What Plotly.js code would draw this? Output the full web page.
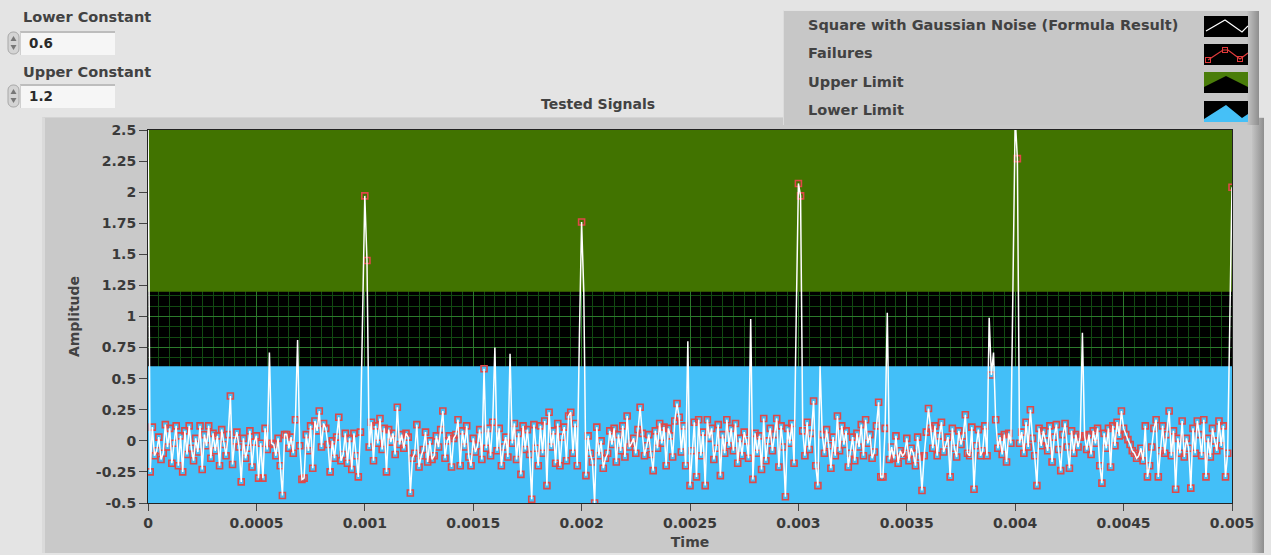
<!DOCTYPE html>
<html><head><meta charset="utf-8">
<script src="https://cdn.plot.ly/plotly-3.0.1.min.js"></script>
<style>
html,body{margin:0;padding:0;}
body{width:1271px;height:555px;overflow:hidden;background:#e4e4e4;position:relative;font-family:"DejaVu Sans",sans-serif;font-weight:bold;color:#424242;}
#frame{position:absolute;left:42px;top:117px;width:1222px;height:436px;background:#c9c9c9;border-left:3px solid #dadada;border-top:1px solid #d4d4d4;box-sizing:border-box;}
#frame .rs{position:absolute;right:0;top:0;width:12px;height:100%;background:linear-gradient(to right,#c4c4c4,#8e8e8e);}
#plot{position:absolute;left:0;top:0;width:1271px;height:555px;}
#legend{position:absolute;left:783px;top:10px;width:476px;height:115px;background:#c7c7c7;border-top:1px solid #e2e2e2;border-left:1px solid #dcdcdc;box-sizing:border-box;}
#legend .rs{position:absolute;right:0;top:0;width:12px;height:100%;background:linear-gradient(to right,#c4c4c4,#8e8e8e);}
.lrow{position:absolute;left:24px;font-size:14.5px;line-height:20px;}
.licon{position:absolute;left:420px;width:44px;height:21px;}
.clab{position:absolute;left:23px;font-size:14.5px;line-height:20px;}
.cbox{position:absolute;left:20px;width:95px;height:24px;background:#f6f6f6;border-top:2px solid #bdbdbd;border-left:1px solid #cfcfcf;box-sizing:border-box;font-size:13.5px;line-height:21px;padding-left:8px;color:#2a2a2a;}
.spin{position:absolute;left:7px;width:13px;height:24px;}
</style></head>
<body>
<div id="frame"><div class="rs"></div></div>
<div id="plot"></div>
<div class="clab" style="top:7px;">Lower Constant</div>
<svg class="spin" style="top:31px;" viewBox="0 0 13 24"><rect x="1" y="1" width="11" height="22" rx="5" fill="#d4d4d4" stroke="#a8a8a8"/><path d="M6.5 5 L9.5 10 L3.5 10 Z" fill="#777"/><path d="M6.5 19 L9.5 14 L3.5 14 Z" fill="#777"/></svg>
<div class="cbox" style="top:31px;">0.6</div>
<div class="clab" style="top:62px;">Upper Constant</div>
<svg class="spin" style="top:84px;" viewBox="0 0 13 24"><rect x="1" y="1" width="11" height="22" rx="5" fill="#d4d4d4" stroke="#a8a8a8"/><path d="M6.5 5 L9.5 10 L3.5 10 Z" fill="#777"/><path d="M6.5 19 L9.5 14 L3.5 14 Z" fill="#777"/></svg>
<div class="cbox" style="top:84px;">1.2</div>

<div id="legend">
  <div class="rs"></div>
  <div class="lrow" style="top:4px;">Square with Gaussian Noise (Formula Result)</div>
  <svg class="licon" style="top:5px;" viewBox="0 0 44 21"><rect width="44" height="21" fill="#000"/><polyline points="2,15 21,4 38,16 44,10" fill="none" stroke="#fff" stroke-width="1.2"/></svg>
  <div class="lrow" style="top:32px;">Failures</div>
  <svg class="licon" style="top:33px;" viewBox="0 0 44 21"><rect width="44" height="21" fill="#000"/><polyline points="4,16 19,6 24,6 36,15 44,9" fill="none" stroke="#e23b3b" stroke-width="1.2"/><rect x="1.5" y="13.5" width="5" height="5" fill="none" stroke="#e23b3b"/><rect x="18.5" y="3.5" width="5" height="5" fill="none" stroke="#e23b3b"/><rect x="33.5" y="12.5" width="5" height="5" fill="none" stroke="#e23b3b"/></svg>
  <div class="lrow" style="top:61px;">Upper Limit</div>
  <svg class="licon" style="top:61px;" viewBox="0 0 44 21"><rect width="44" height="21" fill="#000"/><polygon points="0,0 44,0 44,15 22,4 0,15" fill="#4a7d0a"/></svg>
  <div class="lrow" style="top:89px;">Lower Limit</div>
  <svg class="licon" style="top:90px;" viewBox="0 0 44 21"><rect width="44" height="21" fill="#000"/><polygon points="0,21 0,18 22,4 38,17 44,13 44,21" fill="#45c0f7"/></svg>
</div>

<script>
// ---- data ----
const t0 = 0;
const dt = 0.00001;
const lowerConstant = 0.6;
const upperConstant = 1.2;
const signal = [
 2.6, -0.25, 0.11, -0.12, -0.08, 0.03, -0.15, -0.1, 0.13, -0.05,
 0.1, -0.18, -0.02, 0.12, -0.2, 0.04, -0.25, 0.08, -0.11, 0.12,
 -0.06, -0.16, 0.02, -0.09, 0.12, -0.23, 0.05, -0.04, 0.12, -0.14,
 0.06, -0.08, 0.04, -0.2, 0.09, -0.03, -0.12, 0.05, 0.36, -0.19,
 0.0, 0.07, -0.05, -0.33, 0.02, -0.14, -0.06, 0.08, -0.21, -0.01,
 0.04, -0.3, -0.02, -0.3, 0.1, -0.07, 0.71, -0.02, -0.03, -0.12,
 0.02, -0.2, -0.44, 0.05, 0.05, -0.06, 0.03, -0.1, 0.17, 0.81,
 -0.04, -0.31, -0.3, 0.05, -0.08, 0.12, -0.22, 0.16, 0.08, 0.24,
 -0.05, 0.14, 0.1, -0.03, -0.25, 0.0, -0.14, 0.03, 0.19, -0.16,
 -0.11, 0.06, -0.18, 0.02, -0.23, 0.06, -0.12, -0.29, 0.07, 0.93,
 1.97, 1.45, -0.05, 0.15, -0.16, 0.12, -0.02, 0.18, -0.07, 0.1,
 -0.25, 0.09, -0.01, 0.06, -0.11, 0.27, -0.03, 0.05, -0.06, 0.06,
 0.03, -0.42, -0.14, -0.1, 0.13, -0.21, -0.12, -0.07, 0.07, -0.17,
 0.0, -0.15, -0.12, 0.04, -0.05, 0.09, 0.24, -0.14, 0.0, 0.04,
 -0.21, 0.02, 0.05, 0.17, -0.2, 0.08, -0.05, 0.12, -0.13, -0.2,
 0.02, -0.09, -0.04, 0.09, -0.15, 0.58, -0.06, 0.1, -0.12, 0.15,
 0.75, -0.08, 0.1, -0.2, -0.05, 0.03, -0.13, 0.7, -0.02, 0.14,
 -0.15, 0.06, -0.27, 0.12, -0.07, 0.09, -0.11, -0.47, 0.13, -0.06,
 -0.2, 0.12, -0.1, 0.16, -0.36, 0.23, -0.05, 0.08, -0.18, 0.14,
 -0.2, 0.03, 0.11, -0.16, 0.2, 0.23, -0.1, 0.14, -0.2, 0.85,
 1.76, 1.2, -0.28, 0.04, -0.1, -0.17, -0.5, 0.11, -0.12, 0.0,
 -0.22, -0.14, -0.1, 0.08, -0.03, 0.1, -0.17, 0.05, -0.08, 0.12,
 -0.13, 0.2, -0.05, -0.02, 0.02, -0.1, 0.09, 0.27, 0.06, -0.12,
 -0.04, 0.05, -0.11, -0.24, 0.08, -0.06, 0.14, -0.02, 0.11, -0.2,
 0.1, 0.04, -0.13, 0.16, 0.3, 0.19, -0.09, 0.12, -0.2, 0.8,
 -0.36, -0.08, 0.15, -0.29, 0.17, -0.12, 0.07, -0.36, 0.17, 0.02,
 0.1, -0.15, -0.06, 0.13, -0.28, 0.05, -0.1, 0.17, -0.04, 0.1,
 -0.08, 0.14, -0.18, 0.02, -0.12, 0.07, 0.0, -0.14, 0.98, -0.31,
 0.06, -0.1, 0.04, -0.23, 0.18, -0.16, 0.0, 0.1, -0.08, 0.05,
 0.18, -0.21, 0.12, -0.05, -0.45, 0.1, -0.02, 0.14, -0.18, 1.0,
 2.07, 1.97, 0.08, -0.12, 0.15, -0.07, 0.06, 0.32, -0.2, -0.36,
 0.6, 0.05, -0.1, 0.09, -0.04, -0.22, 0.03, -0.12, 0.2, -0.08,
 0.12, -0.03, 0.08, -0.21, -0.1, 0.03, -0.16, 0.06, -0.05, 0.13,
 -0.12, 0.17, -0.02, 0.05, -0.14, -0.09, 0.12, 0.31, -0.29, -0.29,
 0.1, 1.03, -0.15, -0.05, -0.14, 0.04, -0.18, -0.08, -0.12, -0.1,
 0.02, -0.16, -0.06, -0.1, -0.2, 0.03, -0.13, -0.4, -0.12, 0.07,
 0.26, 0.1, -0.06, 0.12, -0.12, 0.04, 0.15, -0.09, -0.02, 0.03,
 -0.29, 0.1, -0.06, -0.13, 0.08, -0.03, 0.04, 0.21, -0.1, -0.12,
 0.11, -0.39, -0.04, 0.09, -0.12, -0.08, 0.12, -0.12, 0.99, 0.53,
 0.71, 0.17, -0.06, 0.03, -0.11, 0.05, -0.17, 0.06, -0.02, 1.14,
 2.6, 2.27, -0.02, 0.07, -0.1, 0.15, -0.05, 0.25, 0.02, -0.12,
 -0.36, 0.1, -0.04, 0.08, 0.0, -0.08, 0.12, -0.17, 0.03, 0.13,
 -0.07, -0.24, 0.05, 0.14, -0.05, -0.22, 0.08, -0.1, 0.05, -0.05,
 0.03, 0.87, 0.04, -0.07, 0.05, -0.11, 0.08, -0.02, 0.1, -0.2,
 -0.34, 0.06, -0.06, 0.1, -0.21, 0.12, -0.04, 0.15, 0.04, 0.24,
 0.1, 0.05, 0.01, -0.03, -0.08, -0.1, -0.14, -0.12, -0.06, -0.16,
 0.12, -0.29, -0.2, -0.05, 0.1, 0.17, -0.29, -0.08, 0.12, -0.1,
 0.05, 0.24, -0.12, 0.08, -0.39, 0.02, -0.1, 0.16, -0.13, 0.02,
 -0.06, -0.38, 0.1, -0.1, 0.16, 0.05, -0.12, 0.17, -0.29, 0.02,
 -0.13, 0.1, 0.0, -0.08, 0.16, -0.04, 0.12, -0.29, -0.1, 0.97,
 2.04
];
const xTickVals = [0, 0.0005, 0.001, 0.0015, 0.002, 0.0025, 0.003, 0.0035, 0.004, 0.0045, 0.005];
const xTickText = ['0', '0.0005', '0.001', '0.0015', '0.002', '0.0025', '0.003', '0.0035', '0.004', '0.0045', '0.005'];
const yTickVals = [-0.5, -0.25, 0, 0.25, 0.5, 0.75, 1, 1.25, 1.5, 1.75, 2, 2.25, 2.5];
const yTickText = ['-0.5', '-0.25', '0', '0.25', '0.5', '0.75', '1', '1.25', '1.5', '1.75', '2', '2.25', '2.5'];
const seriesNames = ['Square with Gaussian Noise (Formula Result)', 'Failures', 'Upper Limit', 'Lower Limit'];

// ---- derived ----
const time = signal.map((_, i) => t0 + i * dt);
const tEnd = time[time.length - 1];
const yRange = [-0.5, 2.5];
const failures = signal.map(v => (v < lowerConstant || v > upperConstant) ? v : null);

const font = {family: '"DejaVu Sans", sans-serif', size: 14, color: '#424242', weight: 'bold'};
const tickFont = {family: '"DejaVu Sans", sans-serif', size: 14, color: '#3a3a3a', weight: 'bold'};

const traces = [
  {name: seriesNames[3], x: [t0, tEnd, tEnd, t0], y: [yRange[0], yRange[0], lowerConstant, lowerConstant],
   type: 'scatter', mode: 'lines', fill: 'toself', fillcolor: '#43bff8', line: {width: 0, color: '#43bff8'}, hoverinfo: 'skip'},
  {name: seriesNames[2], x: [t0, tEnd, tEnd, t0], y: [upperConstant, upperConstant, yRange[1], yRange[1]],
   type: 'scatter', mode: 'lines', fill: 'toself', fillcolor: '#417300', line: {width: 0, color: '#417300'}, hoverinfo: 'skip'},
  {name: seriesNames[1], x: time, y: failures, type: 'scatter', mode: 'markers',
   marker: {symbol: 'square-open', size: 6, color: '#e04848', line: {width: 1.6, color: '#e04848'}}},
  {name: seriesNames[0], x: time, y: signal, type: 'scatter', mode: 'lines',
   line: {color: '#ffffff', width: 1.5}}
];

const layout = {
  width: 1271, height: 555,
  margin: {l: 148, r: 39, t: 130, b: 52},
  paper_bgcolor: 'rgba(0,0,0,0)',
  plot_bgcolor: '#000000',
  showlegend: false,
  font: font,
  title: {text: 'Tested Signals', font: font, x: 598 / 1271, xanchor: 'center', xref: 'container',
          y: 1 - 104 / 555, yanchor: 'middle', yref: 'container'},
  xaxis: {
    range: [t0, tEnd], tickvals: xTickVals, ticktext: xTickText,
    ticks: 'outside', ticklen: 7, tickcolor: '#444', tickwidth: 1,
    showgrid: true, gridcolor: '#2c7a2c', gridwidth: 1,
    minor: {dtick: 0.00005, showgrid: true, gridcolor: '#124a12', gridwidth: 1},
    zeroline: false, showline: true, linecolor: '#222', mirror: true,
    tickfont: tickFont,
    title: {text: 'Time', font: font, standoff: 7}
  },
  yaxis: {
    range: yRange, tickvals: yTickVals, ticktext: yTickText,
    ticks: 'outside', ticklen: 8, tickcolor: '#444', tickwidth: 1,
    showgrid: true, gridcolor: '#2c7a2c', gridwidth: 1,
    minor: {tick0: 0, dtick: 0.25 / 3, showgrid: true, gridcolor: '#124a12', gridwidth: 1},
    zeroline: false, showline: true, linecolor: '#222', mirror: true,
    tickfont: tickFont,
    title: {text: 'Amplitude', font: font, standoff: 12}
  }
};

Plotly.newPlot('plot', traces, layout, {staticPlot: true, displayModeBar: false});
</script>
</body></html>
